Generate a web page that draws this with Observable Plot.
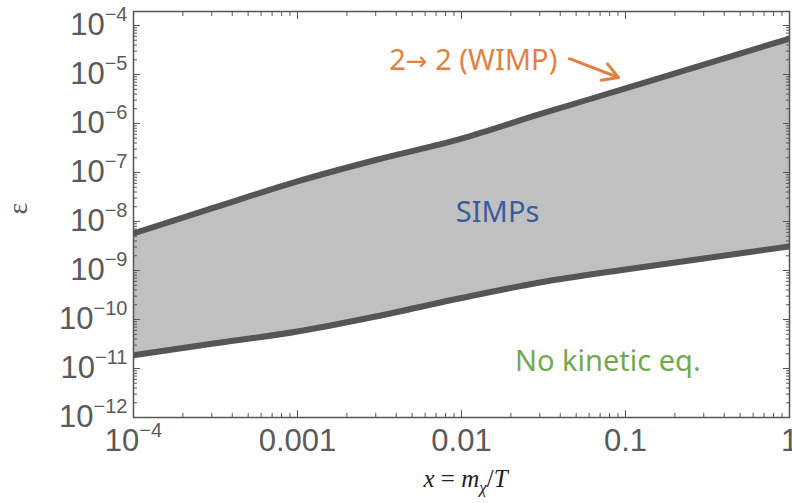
<!DOCTYPE html>
<html><head><meta charset="utf-8">
<script src="https://cdn.jsdelivr.net/npm/d3@7"></script>
<script src="https://cdn.jsdelivr.net/npm/@observablehq/plot@0.6"></script>
<style>body{margin:0;background:#fff;} #chart svg{display:block}</style>
</head><body><div id="chart"></div>
<script>
// ---- data ----
const xValues  = [1e-4, 3e-4, 1e-3, 3e-3, 1e-2, 3e-2, 0.1, 0.3, 1];
const upperEps = [5.7e-9, 1.85e-8, 6.6e-8, 1.8e-7, 4.9e-7, 1.55e-6, 5.2e-6, 1.6e-5, 5.4e-5];
const lowerEps = [1.86e-11, 3.2e-11, 5.7e-11, 1.15e-10, 2.75e-10, 5.7e-10, 1.05e-9, 1.76e-9, 3.1e-9];

const xTicks = [1e-4, 1e-3, 1e-2, 1e-1, 1];
const xTickLabels = ["10^−4", "0.001", "0.01", "0.1", "1"];
const yTicks = [1e-12, 1e-11, 1e-10, 1e-9, 1e-8, 1e-7, 1e-6, 1e-5, 1e-4];
const yTickLabels = ["10^−12", "10^−11", "10^−10", "10^−9", "10^−8", "10^−7", "10^−6", "10^−5", "10^−4"];

const labelTexts  = ["2→ 2 (WIMP)", "SIMPs", "No kinetic eq."];
const labelX      = [0.0118, 0.0166, 0.078];
const labelY      = [1.9e-5, 1.5e-8, 1.4e-11];
const labelColors = ["#e2813f", "#3d5c9c", "#72a94f"];

const arrowX1 = [0.0455], arrowY1 = [2.1e-5], arrowX2 = [0.0906], arrowY2 = [8.7e-6];

const xLabel = "x = mχ/T";
const yLabel = "ε";

// ---- tables ----
const rows = xValues.map((x, i) => ({x, upper: upperEps[i], lower: lowerEps[i]}));
const notes = labelTexts.map((t, i) => ({text: t, x: labelX[i], y: labelY[i], color: labelColors[i]}));
const arrows = arrowX1.map((d, i) => ({x1: arrowX1[i], y1: arrowY1[i], x2: arrowX2[i], y2: arrowY2[i]}));

const fmt = (ticks, labels) => d => {
  const i = ticks.findIndex(t => Math.abs(Math.log10(t) - Math.log10(d)) < 1e-6);
  return i < 0 ? "" : labels[i];
};
const blank = () => "";
const axisCol = "#555";

const chart = Plot.plot({
  width: 792, height: 503,
  marginLeft: 133, marginRight: 3, marginTop: 11, marginBottom: 86,
  style: {background: "white", fontFamily: "'Liberation Sans', Arial, sans-serif", overflow: "hidden"},
  x: {type: "log", domain: [1e-4, 1]},
  y: {type: "log", domain: [1e-12, Math.pow(10, -3.714)]},
  marks: [
    Plot.areaY(rows, {x: "x", y1: "lower", y2: "upper", fill: "#c0c0c0", clip: true, curve: "monotone-x"}),
    Plot.line(rows, {x: "x", y: "upper", stroke: "#555", strokeWidth: 6, clip: true, curve: "monotone-x"}),
    Plot.line(rows, {x: "x", y: "lower", stroke: "#555", strokeWidth: 6, clip: true, curve: "monotone-x"}),
    Plot.frame({stroke: axisCol, strokeWidth: 1.5}),
    // bottom
    Plot.axisX({anchor: "bottom", ticks: xTicks, tickSize: -7, tickPadding: 18, tickFormat: fmt(xTicks, xTickLabels), fontSize: 31, color: "#5a5a5a", label: null}),
    Plot.axisX({anchor: "bottom", ticks: 40, tickSize: -4, tickFormat: blank, color: axisCol, label: null}),
    // top
    Plot.axisX({anchor: "top", ticks: xTicks, tickSize: -7, tickFormat: blank, color: axisCol, label: null}),
    Plot.axisX({anchor: "top", ticks: 40, tickSize: -4, tickFormat: blank, color: axisCol, label: null}),
    // left
    Plot.axisY({anchor: "left", ticks: yTicks, tickSize: -7, tickPadding: 13, tickFormat: fmt(yTicks, yTickLabels), fontSize: 31, color: "#5a5a5a", label: null}),
    Plot.axisY({anchor: "left", ticks: 100, tickSize: -4, tickFormat: blank, color: axisCol, label: null}),
    // right
    Plot.axisY({anchor: "right", ticks: yTicks, tickSize: -7, tickFormat: blank, color: axisCol, label: null}),
    Plot.axisY({anchor: "right", ticks: 100, tickSize: -4, tickFormat: blank, color: axisCol, label: null}),
    // annotations
    Plot.text(notes, {x: "x", y: "y", text: "text", fill: "color", fontSize: 29, fontFamily: "'Noto Sans', 'Open Sans', sans-serif"}),
    Plot.arrow(arrows, {x1: "x1", y1: "y1", x2: "x2", y2: "y2", stroke: "#e2813f", strokeWidth: 3, headLength: 14}),
    // axis titles
    Plot.text([yLabel], {frameAnchor: "left", dx: -115, rotate: -90, fontSize: 28, fill: "#555", fontFamily: "'Liberation Serif', serif"}),
    Plot.text([xLabel], {frameAnchor: "bottom", dx: 4, dy: 69, fontSize: 25, fill: "#222", fontFamily: "'Liberation Serif', serif"})
  ]
});
document.getElementById("chart").appendChild(chart);

// ---- typographic post-processing: superscripts, arrow glyph, math label ----
d3.select(chart).selectAll("text").each(function() {
  const t = this.textContent;
  const sel = d3.select(this);
  if (t.includes("^")) {
    const [base, sup] = t.split("^");
    sel.text(base);
    sel.append("tspan").attr("dy", -14).attr("font-size", 20).text(sup);
  } else if (t.includes("→")) {
    const [a, b] = t.split("→");
    sel.text(a);
    sel.append("tspan").attr("font-family", "'DejaVu Sans', sans-serif").attr("font-size", 26).text("→");
    sel.append("tspan").text(b);
  } else if (t === xLabel) {
    sel.text("");
    sel.append("tspan").attr("font-style", "italic").text("x");
    sel.append("tspan").text(" = ");
    sel.append("tspan").attr("font-style", "italic").text("m");
    sel.append("tspan").attr("font-style", "italic").attr("font-size", 17).attr("dy", 6).text("χ");
    sel.append("tspan").attr("dy", -6).text("/");
    sel.append("tspan").attr("font-style", "italic").text("T");
  }
});
</script>
</body></html>
